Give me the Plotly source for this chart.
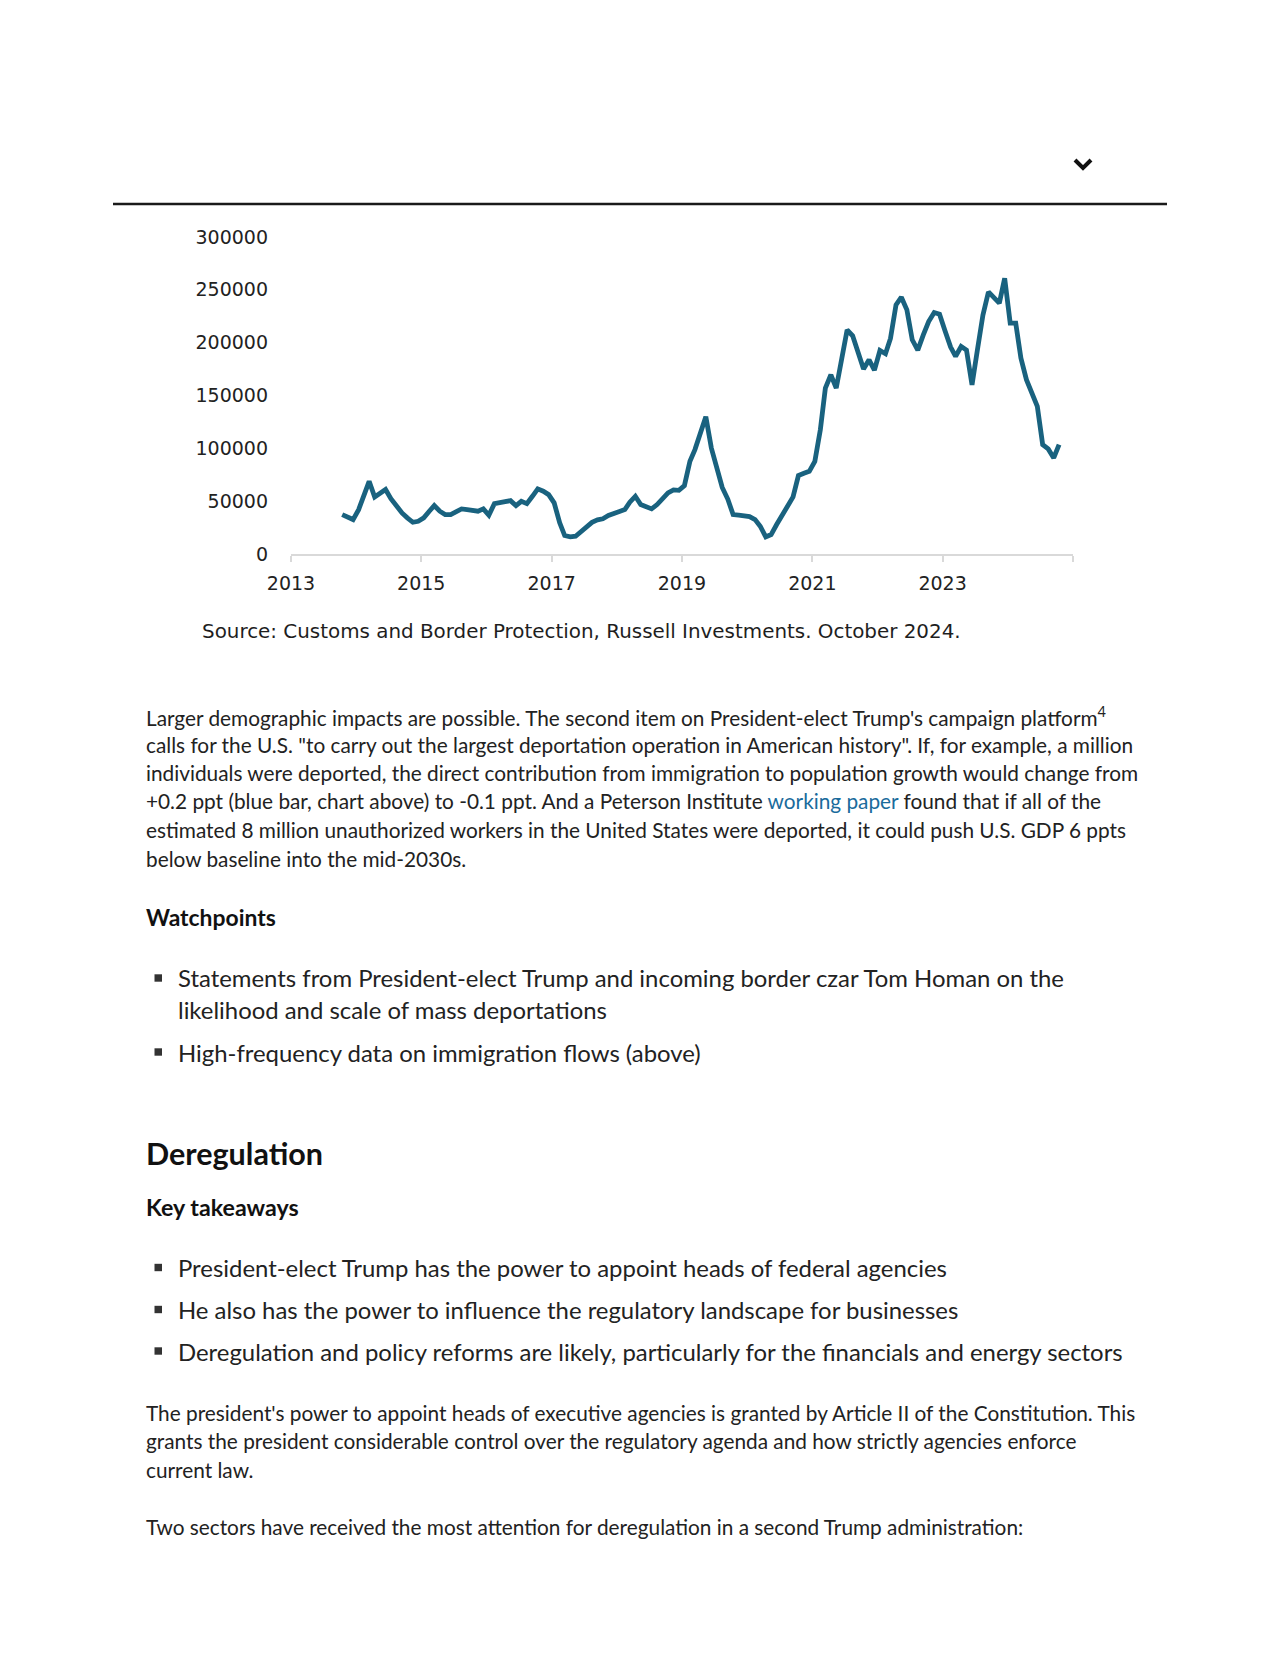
import pandas as pd
import plotly.graph_objects as go

# ---------------- data (monthly, Oct 2013 .. Oct 2024) ----------------
start_month = "2013-10-01"
end_month = "2024-10-01"
vals_2013 = [37300, 34800, 32600]
vals_2014 = [42000, 56200, 68800, 54000, 57200, 61000, 52400, 45200, 38900, 34200, 30000, 31000]
vals_2015 = [34200, 40500, 45800, 40500, 37300, 37300, 39900, 42700, 42000, 41100, 40500, 42700]
vals_2016 = [36700, 47700, 49000, 49600, 50500, 45800, 49900, 47700, 54600, 61600, 59400, 56200]
vals_2017 = [48400, 29500, 17500, 16200, 16800, 21000, 24700, 30000, 32300, 33300, 36400, 38300]
vals_2018 = [40200, 42000, 49000, 54600, 46800, 44600, 42700, 46800, 52200, 57800, 60600, 60300]
vals_2019 = [64700, 87700, 98800, 114500, 130000, 100300, 81500, 63000, 52000, 37300, 36700, 36400]
vals_2020 = [35400, 32600, 26300, 16200, 18400, 27900, 37300, 45200, 54000, 74200, 76400, 78200]
vals_2021 = [87700, 117700, 157000, 169600, 157000, 187000, 212000, 206500, 190000, 175000, 183800, 174000]
vals_2022 = [192600, 189500, 204000, 235800, 243000, 231000, 202700, 193000, 207400, 220000, 228500, 227000]
vals_2023 = [211000, 195800, 187000, 196400, 193000, 160000, 193000, 226000, 248000, 242000, 237400, 261000]
vals_2024 = [218500, 218500, 185400, 165000, 152300, 139700, 103500, 99400, 90900, 103500]

values = (vals_2013 + vals_2014 + vals_2015 + vals_2016 + vals_2017 + vals_2018 +
          vals_2019 + vals_2020 + vals_2021 + vals_2022 + vals_2023 + vals_2024)
months = pd.date_range(start_month, end_month, freq="MS") + pd.Timedelta(days=14)

x_tick_dates = ["2013-01-01", "2015-01-01", "2017-01-01", "2019-01-01",
                "2021-01-01", "2023-01-01"]
x_tick_labels = ["2013", "2015", "2017", "2019", "2021", "2023"]
x_extra_tick = ["2025-01-01"]
y_tick_vals = [0, 50000, 100000, 150000, 200000, 250000, 300000]
y_tick_labels = ["0", "50000", "100000", "150000", "200000", "250000", "300000"]

source_text = "Source: Customs and Border Protection, Russell Investments. October 2024."
para1 = [
    "Larger demographic impacts are possible. The second item on President-elect Trump's campaign platform<sup>4</sup>",
    "calls for the U.S. \"to carry out the largest deportation operation in American history\". If, for example, a million",
    "individuals were deported, the direct contribution from immigration to population growth would change from",
    "+0.2 ppt (blue bar, chart above) to -0.1 ppt. And a Peterson Institute <span style='color:#1a6b9c'>working paper</span> found that if all of the",
    "estimated 8 million unauthorized workers in the United States were deported, it could push U.S. GDP 6 ppts",
    "below baseline into the mid-2030s.",
]
watch_title = "Watchpoints"
watch_bullets = [
    ["Statements from President-elect Trump and incoming border czar Tom Homan on the",
     "likelihood and scale of mass deportations"],
    ["High-frequency data on immigration flows (above)"],
]
dereg_title = "Deregulation"
key_title = "Key takeaways"
key_bullets = [
    "President-elect Trump has the power to appoint heads of federal agencies",
    "He also has the power to influence the regulatory landscape for businesses",
    "Deregulation and policy reforms are likely, particularly for the financials and energy sectors",
]
para2 = [
    "The president's power to appoint heads of executive agencies is granted by Article II of the Constitution. This",
    "grants the president considerable control over the regulatory agenda and how strictly agencies enforce",
    "current law.",
]
para3 = ["Two sectors have received the most attention for deregulation in a second Trump administration:"]

# ---------------- layout geometry (pixels) ----------------
FIG_W, FIG_H = 1280, 1656
L, R, T, B = 291, 1073, 237, 554
W, H = R - L, B - T


def px(x):
    return (x - L) / W


def py(y):
    return (B - y) / H


LINE_COLOR = "#19627f"
TEXT_COLOR = "#222222"
BODY_FONT = "Lato, 'Open Sans', sans-serif"
BODY_SIZE = 20.8
BULLET_SIZE = 23.9

fig = go.Figure()
fig.add_trace(go.Scatter(
    x=months, y=values, mode="lines",
    line=dict(color=LINE_COLOR, width=4.8, shape="linear"),
    hoverinfo="skip", showlegend=False,
))

fig.update_layout(
    width=FIG_W, height=FIG_H, autosize=False,
    margin=dict(l=L, r=FIG_W - R, t=T, b=FIG_H - B, pad=0),
    paper_bgcolor="white", plot_bgcolor="white",
    showlegend=False,
    font=dict(family="DejaVu Sans", size=19, color=TEXT_COLOR),
)
fig.update_xaxes(
    type="date", range=["2013-01-01", "2025-01-01"],
    tickvals=x_tick_dates, ticktext=x_tick_labels,
    showgrid=False, zeroline=False,
    showline=True, linecolor="#d9d9d9", linewidth=2,
    ticks="outside", ticklen=6, tickwidth=2, tickcolor="#d9d9d9",
    minor=dict(tickvals=x_extra_tick, ticks="outside", ticklen=6, tickwidth=2,
               tickcolor="#d9d9d9", showgrid=False),
    tickfont=dict(family="DejaVu Sans", size=19, color=TEXT_COLOR),
    ticklabelstandoff=5,
)
fig.update_yaxes(
    range=[0, 300000], tickvals=y_tick_vals, ticktext=y_tick_labels,
    showgrid=False, zeroline=False, showline=False, ticks="",
    tickfont=dict(family="DejaVu Sans", size=19, color=TEXT_COLOR),
    ticklabelstandoff=22,
)

annotations = []
shapes = []


def add_text(text, x, y, size, family=BODY_FONT, color=TEXT_COLOR, bold=False):
    t = f"<b>{text}</b>" if bold else text
    annotations.append(dict(
        text=t, x=px(x), y=py(y), xref="paper", yref="paper",
        xanchor="left", yanchor="middle", showarrow=False,
        font=dict(family=family, size=size, color=color), align="left",
    ))


# top rule and chevron
shapes.append(dict(type="line", xref="paper", yref="paper",
                   x0=px(113), x1=px(1167), y0=py(204), y1=py(204),
                   line=dict(color="#1a1a1a", width=2.5)))
chev = f"M {px(1075)},{py(160)} L {px(1083)},{py(168)} L {px(1091)},{py(160)}"
shapes.append(dict(type="path", xref="paper", yref="paper", path=chev,
                   line=dict(color="#111111", width=4)))

# source
add_text(source_text, 200, 631, 19.9, family="DejaVu Sans", color="#1e1e1e")

# paragraph 1
p1_y = [716, 744.5, 772, 800.5, 829, 858.5]
for line, y in zip(para1, p1_y):
    add_text(line, 144, y, BODY_SIZE)

add_text(watch_title, 144, 917, 22.9, bold=True, color="#111111")

bullet_rows = [[978, 1009.5], [1052]]
for lines, ys in zip(watch_bullets, bullet_rows):
    shapes.append(dict(type="rect", xref="paper", yref="paper",
                       x0=px(154.5), x1=px(162), y0=py(ys[0] - 3.7), y1=py(ys[0] + 3.7),
                       fillcolor="#333333", line=dict(width=0)))
    for line, y in zip(lines, ys):
        add_text(line, 176, y, BULLET_SIZE)

add_text(dereg_title, 144, 1153, 30.5, bold=True, color="#111111")
add_text(key_title, 144, 1207, 23.2, bold=True, color="#111111")

for line, y in zip(key_bullets, [1267.5, 1309.5, 1351]):
    shapes.append(dict(type="rect", xref="paper", yref="paper",
                       x0=px(154.5), x1=px(162), y0=py(y - 3.7), y1=py(y + 3.7),
                       fillcolor="#333333", line=dict(width=0)))
    add_text(line, 176, y, BULLET_SIZE)

for line, y in zip(para2, [1412, 1440.5, 1469.5]):
    add_text(line, 144, y, BODY_SIZE)
for line, y in zip(para3, [1527]):
    add_text(line, 144, y, BODY_SIZE)

fig.update_layout(annotations=annotations, shapes=shapes)

fig.write_html("out.html", config={"displayModeBar": False},
               post_script="document.body.style.margin='0px';")
